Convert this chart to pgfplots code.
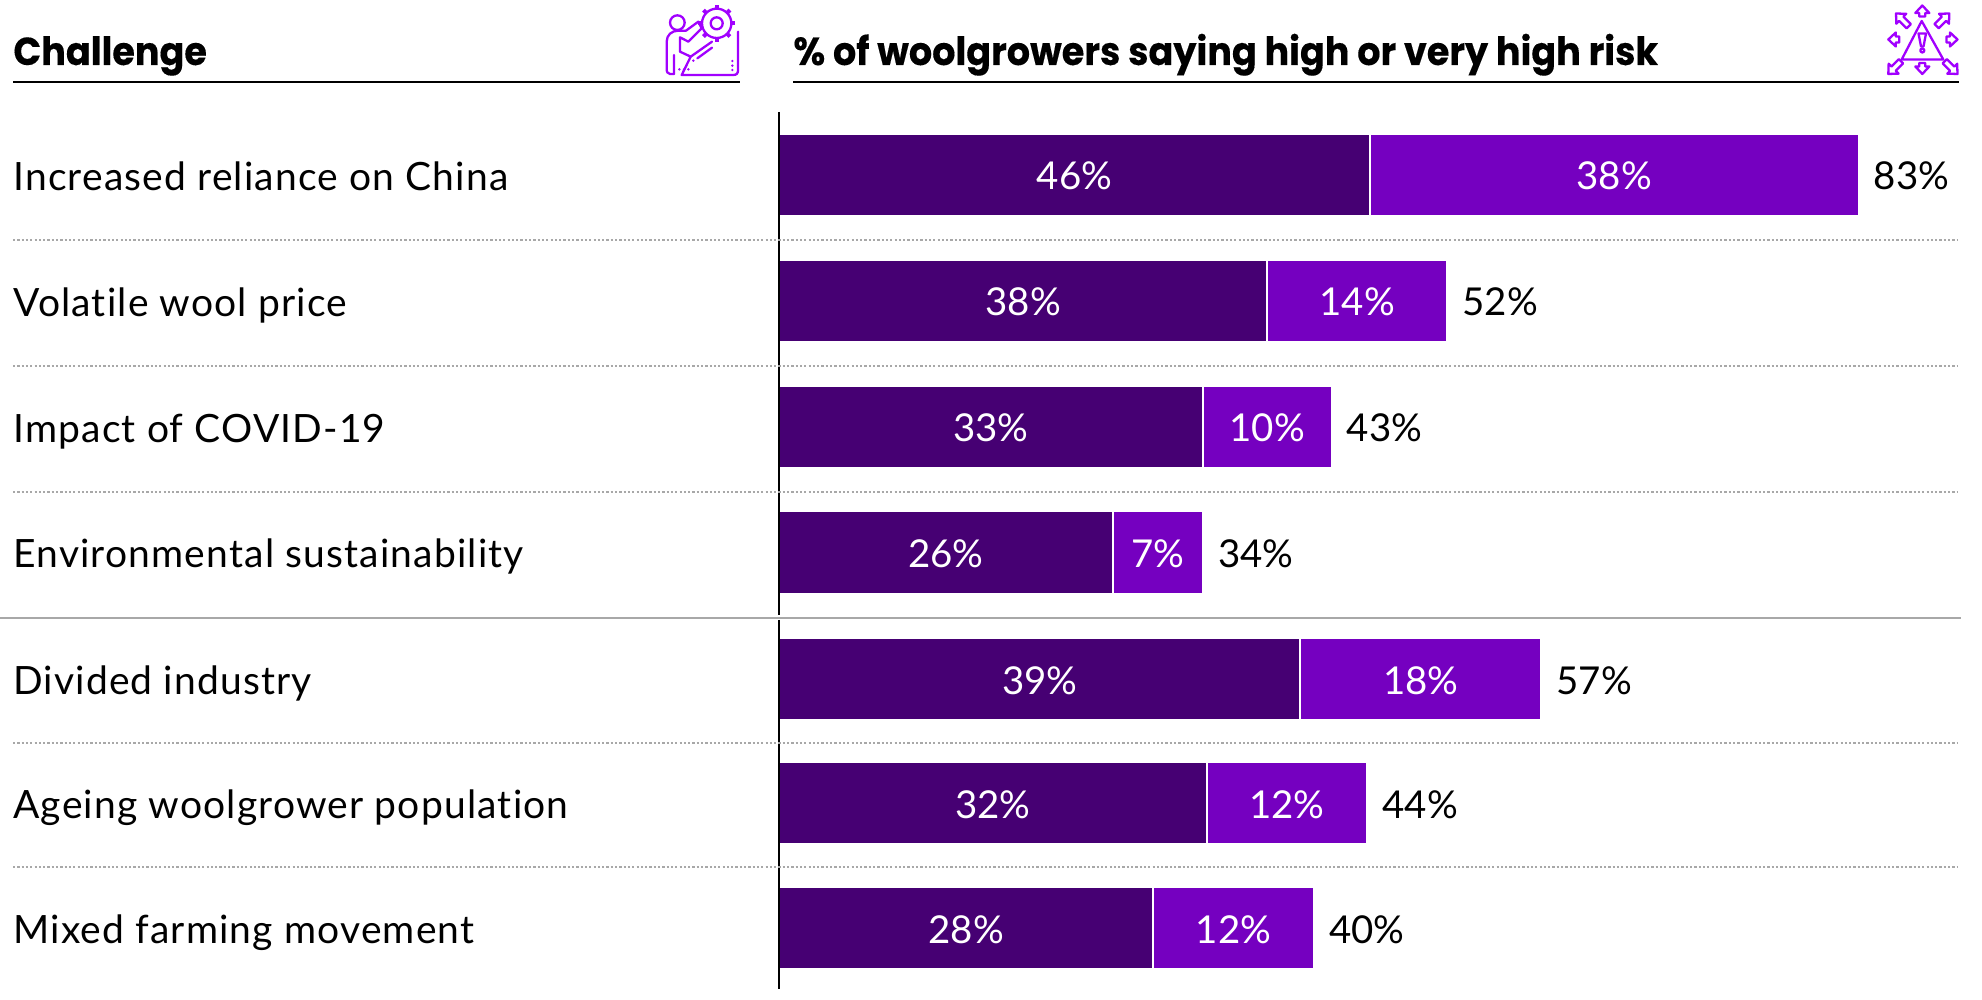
\documentclass[border=0pt]{standalone}
\usepackage{pgfplots}
\pgfplotsset{compat=1.18}
\usepackage{fontspec}
\setmainfont{Lato}
\newfontfamily\rowfont{Lato}[LetterSpace=3,Ligatures=NoCommon]
\newfontfamily\headfont{Poppins}[UprightFont=* Bold,BoldFont=* Bold,FakeBold=0.3]
\definecolor{barDark}{HTML}{460073}
\definecolor{barLight}{HTML}{7500C0}
\definecolor{iconPurple}{HTML}{A100FF}
\definecolor{ruleGrey}{HTML}{A8A8A8}
% Market risks and industry risks are drawn on slightly different scales
\pgfplotstableread{
y     high veryhigh
175   46   38
301   38   14
427   33   10
552.5 26   7
}\marketrisks
\pgfplotstableread{
y     high veryhigh
679   39   18
803   32   12
928   28   12
}\industryrisks
\tikzset{
  valuetext/.style={inner sep=0pt,font=\fontsize{19.2}{19.2}\selectfont},
  rowtext/.style={inner sep=0pt,anchor=base west,font=\rowfont\fontsize{19.5}{19.5}\selectfont},
  headtext/.style={inner sep=0pt,anchor=base west,font=\headfont\fontsize{19.5}{19.5}\selectfont},
  icon/.style={draw=iconPurple,line width=1.15pt,line join=round,line cap=round},
}
% y position, first segment, second segment, printed total
\newcommand{\rowlabels}[4]{%
  \node[valuetext,anchor=base,text=white] at (axis cs:#2/2,#1+15) {#2\%};
  \node[valuetext,anchor=base,text=white] at (axis cs:#2+#3/2,#1+15) {#3\%};
  \node[valuetext,anchor=base west,xshift=7.5pt] at (axis cs:#2+#3,#1+15) {#4\%};
}
\pgfplotsset{riskbars/.style={
  at={(0,0)},anchor=south west,
  scale only axis,width=991pt,height=500pt,
  ymin=0,ymax=1000,y dir=reverse,
  hide axis,clip=false,
  xbar stacked,bar width=41pt,bar shift=0pt,
}}
% tip position, pointing direction, overall length
\newcommand{\warnarrow}[4]{%
  \begin{scope}[shift={(#1,#2)},rotate=#3]
    \draw[icon] (0,0) -- (-7,7.5) -- (-3,7.5) -- (-3,#4) -- (3,#4) -- (3,7.5) -- (7,7.5) -- cycle;
  \end{scope}}
\begin{document}
\begin{tikzpicture}
\path[use as bounding box] (0,0) rectangle (991pt,500pt);
\begin{axis}[riskbars,xmin=-60.62,xmax=93.62]
\addplot[fill=barDark,draw=white,line width=0.9pt] table[x=high,y=y]{\marketrisks};
\addplot[fill=barLight,draw=white,line width=0.9pt] table[x=veryhigh,y=y]{\marketrisks};
\end{axis}
\begin{axis}[riskbars,xmin=-60.62,xmax=93.62]
\rowlabels{175}{46}{38}{83}
\rowlabels{301}{38}{14}{52}
\rowlabels{427}{33}{10}{43}
\rowlabels{552.5}{26}{7}{34}
\end{axis}
\begin{axis}[riskbars,xmin=-58.26,xmax=89.98]
\addplot[fill=barDark,draw=white,line width=0.9pt] table[x=high,y=y]{\industryrisks};
\addplot[fill=barLight,draw=white,line width=0.9pt] table[x=veryhigh,y=y]{\industryrisks};
\end{axis}
\begin{axis}[riskbars,xmin=-58.26,xmax=89.98]
\rowlabels{679}{39}{18}{57}
\rowlabels{803}{32}{12}{44}
\rowlabels{928}{28}{12}{40}
\end{axis}
% Page furniture in a coordinate system of 1982 by 1000 units, y downwards
\begin{scope}[shift={(0,500pt)},x=0.5pt,y=-0.5pt]
  \draw[black,line width=1pt] (779,112) -- (779,615) (779,620) -- (779,989);
  \foreach \y in {240,366.5,492,743,867.5}
    \draw[ruleGrey,line width=1pt,dash pattern=on 1.1pt off 1.05pt] (13,\y) -- (1958,\y);
  \draw[ruleGrey,line width=1pt] (0,618) -- (1961,618);
  \draw[black,line width=1pt] (13,82) -- (740,82) (793,82) -- (1959,82);
  \node[headtext] at (13,65) {\scalebox{0.938}[1]{Challenge}};
  \node[headtext] at (793,65) {\scalebox{0.938}[1]{\% of woolgrowers saying high or very high risk}};
  \foreach \y/\t in {190.5/Increased reliance on China,316.5/Volatile wool price,442.5/Impact of COVID-19,568/Environmental sustainability,694.5/Divided industry,818.5/Ageing woolgrower population,943.5/Mixed farming movement}
    \node[rowtext] at (13,\y) {\t};
  % worker-and-gear pictogram
  \begin{scope}[shift={(620,0)},x=0.1667pt,y=-0.1667pt]
    \draw[icon] (172,68) circle (22);
    \draw[icon] (290,70) circle (44) (290,70) circle (18);
    \foreach \a in {0,45,...,315}
      \draw[icon,line width=2pt,line cap=butt] (290,70)++(\a:44) -- ++(\a:12);
    \draw[icon] (162,222) -- (150,222) .. controls (142,222) and (140,215) .. (140,205) -- (140,125)
       .. controls (140,105) and (155,92) .. (175,92) -- (198,92) -- (235,65) -- (245,85) -- (205,125)
       -- (180,112) -- (180,155) -- (212,170) -- (185,225) -- (340,225)
       .. controls (350,225) and (354,220) .. (354,210) -- (354,95);
    \draw[icon] (162,222) -- (162,165) (212,170) -- (276,125) (232,175) -- (276,143);
    \foreach \p in {(178,208),(192,208),(205,208),(337,183),(337,197),(337,210),(220,182)}
      \fill[iconPurple] \p circle (4);
  \end{scope}
  % warning-triangle pictogram
  \draw[icon] (1921.7,21) -- (1901.7,59.5) -- (1943.3,59.5) -- cycle;
  \draw[icon] (1918.5,33.5) -- (1926,33.5) -- (1923.5,46.5) -- (1921,46.5) -- cycle;
  \draw[icon] (1922.3,50.5) circle (2);
  \warnarrow{1922.3}{5.5}{0}{11}
  \warnarrow{1957.5}{39.5}{-90}{11}
  \warnarrow{1922.3}{74}{180}{11}
  \warnarrow{1888.3}{39.5}{90}{11}
  \warnarrow{1949.3}{13.5}{-45}{18}
  \warnarrow{1896}{13.5}{45}{18}
  \warnarrow{1957.5}{74}{-135}{18}
  \warnarrow{1888.3}{74}{135}{18}
\end{scope}
\end{tikzpicture}
\end{document}
